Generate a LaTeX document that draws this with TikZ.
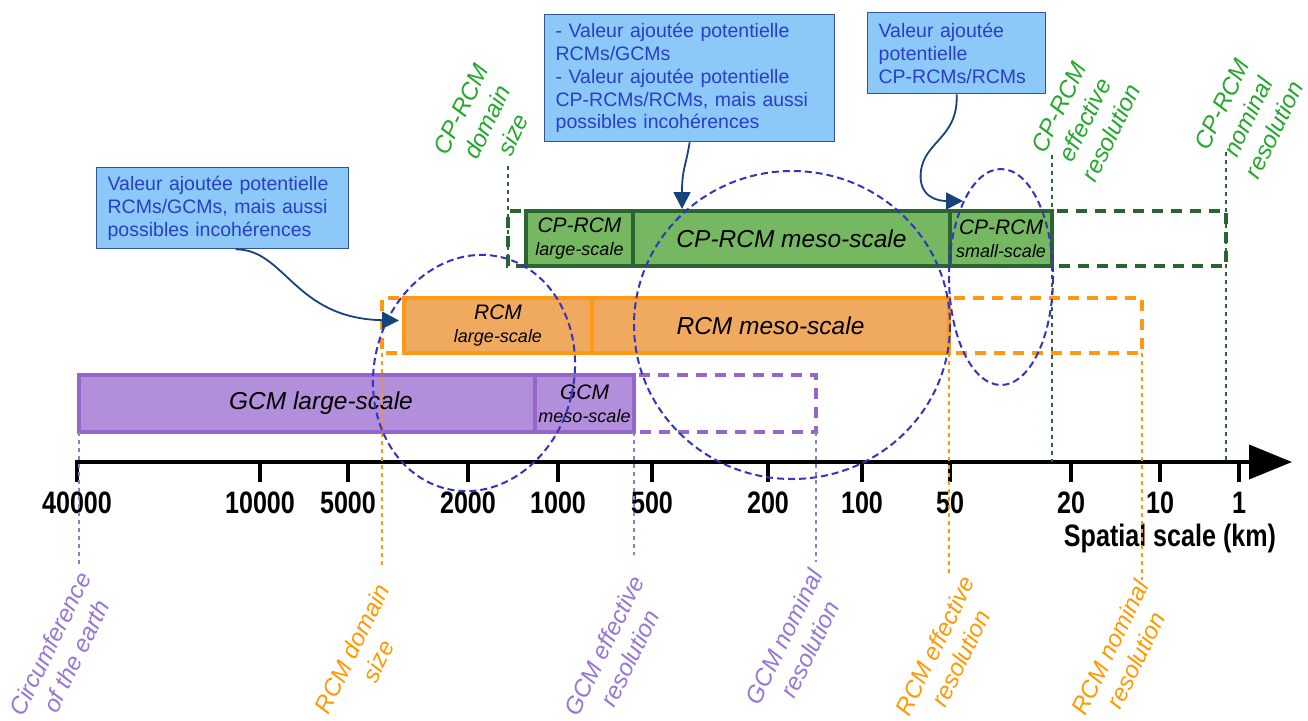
\documentclass[tikz,border=0pt]{standalone}
\usepackage{fontspec}
\setmainfont{Liberation Sans}
\usetikzlibrary{arrows.meta,calc,positioning}

\definecolor{gcmfill}{RGB}{178,143,218}
\definecolor{gcmline}{RGB}{150,102,204}
\definecolor{gcmtext}{RGB}{152,118,212}
\definecolor{rcmfill}{RGB}{240,170,96}
\definecolor{rcmline}{RGB}{255,152,20}
\definecolor{rcmtext}{RGB}{255,153,0}
\definecolor{cpfill}{RGB}{118,184,98}
\definecolor{cpline}{RGB}{42,100,48}
\definecolor{cptext}{RGB}{36,168,44}
\definecolor{notefill}{RGB}{140,200,248}
\definecolor{noteline}{RGB}{52,84,140}
\definecolor{notetext}{RGB}{42,62,198}
\definecolor{ringcol}{RGB}{52,52,190}
\definecolor{pointcol}{RGB}{24,66,122}

\newcommand{\barfont}{\itshape\fontsize{24.5}{29}\selectfont}
\newcommand{\twofont}{\itshape\fontsize{21}{23}\selectfont}
\newcommand{\subfont}{\fontsize{18}{23}\selectfont}
\newcommand{\notefont}{\fontsize{19.5}{22.8}\selectfont}
\newcommand{\tagfont}{\itshape\fontsize{24}{29}\selectfont}
\newcommand{\axfont}{\bfseries\fontsize{31}{34}\selectfont}
\newcommand{\narrow}[1]{\scalebox{0.81}[1]{#1}}

\begin{document}
\begin{tikzpicture}[x=1pt, y=-1pt,
  bar/.style={draw, line width=4pt, inner sep=0pt, outer sep=0pt, font=\barfont, align=center},
  gcm/.style={bar, draw=gcmline, fill=gcmfill, minimum height=57pt},
  rcm/.style={bar, draw=rcmline, fill=rcmfill, minimum height=55pt},
  cp/.style={bar, draw=cpline, fill=cpfill, minimum height=55pt},
  ext/.style={line width=4pt, dash pattern=on 11pt off 8pt, dash phase=14pt},
  guide/.style={line width=2pt, dash pattern=on 4pt off 4pt},
  tag/.style={font=\tagfont, align=center, rotate=64, inner sep=0pt},
  note/.style={draw=noteline, fill=notefill, line width=1.3pt, text=notetext, font=\notefont,
    align=left, inner xsep=11pt, inner ysep=4pt, anchor=north west},
  pointer/.style={draw=pointcol, line width=1.8pt, -{Triangle[length=17pt,width=17pt]}},
  ring/.style={draw=ringcol, line width=2pt, dash pattern=on 7pt off 4pt},
  tick/.style={line width=4pt},
  axlab/.style={font=\axfont, anchor=base, inner sep=0pt}]

\fill[white] (0,0) rectangle (1308,720);
\useasboundingbox (0,0) rectangle (1308,720);

% bars
\node[gcm, minimum width=456pt, anchor=north west] (gcmlarge) at (79,375) {\hspace*{28pt}GCM large-scale};
\node[gcm, minimum width=99pt, right=0pt of gcmlarge, font=\twofont] (gcmmeso) {GCM\\{\subfont meso-scale}};
\node[rcm, minimum width=188pt, anchor=north west, font=\twofont] (rcmlarge) at (404,298) {RCM\\{\subfont large-scale}};
\node[rcm, minimum width=357pt, right=0pt of rcmlarge] (rcmmeso) {RCM meso-scale};
\node[cp, minimum width=107pt, anchor=north west, font=\twofont] (cplarge) at (526,211) {CP-RCM\\{\subfont large-scale}};
\node[cp, minimum width=317pt, right=0pt of cplarge] (cpmeso) {CP-RCM meso-scale};
\node[cp, minimum width=102pt, right=0pt of cpmeso, font=\twofont] (cpsmall) {CP-RCM\\{\subfont small-scale}};

\draw[ext, gcmline] (gcmmeso.north east) -- ++(182,0) |- (gcmmeso.south east);
\draw[ext, rcmline] (rcmmeso.north east) -- ++(193,0) |- (rcmmeso.south east);
\draw[ext, rcmline] (rcmlarge.north west) -- ++(-22,0) |- (rcmlarge.south west);
\draw[ext, cpline] (cpsmall.north east) -- ++(174,0) |- (cpsmall.south east);
\draw[ext, cpline] (cplarge.north west) -- ++(-18,0) |- (cplarge.south west);

% axis
\coordinate (axstart) at (75,462);
\coordinate (axend) at (1292,462);
\draw[line width=4pt, -{Triangle[length=43pt,width=34pt]}] (axstart) -- (axend);
\foreach \x/\v in {77/40000,260/10000,348/5000,468/2000,558/1000,652/500,768/200,862/100,950/50,1071/20,1160/10,1239/1}
{
  \draw[tick] (\x,462) -- ++(0,20);
  \node[axlab] (v\v) at (\x,513) {\narrow{\v}};
}
\node[axlab] (unit) at (1170,546) {\narrow{Spatial scale (km)}};

% guides
\draw[guide, gcmtext] (gcmlarge.south west) -- ++(0,136);
\draw[guide, rcmtext] ([xshift=-22pt]rcmlarge.south west) -- ++(0,215);
\draw[guide, gcmtext] (gcmmeso.south east) -- ++(0,123);
\draw[guide, gcmtext] ([xshift=182pt]gcmmeso.south east) -- ++(0,130);
\draw[guide, rcmtext] (rcmmeso.south east) -- ++(0,222);
\draw[guide, rcmtext] ([xshift=193pt]rcmmeso.south east) -- ++(0,227);
\draw[guide, cpline] ([xshift=-18pt]cplarge.south west) -- ++(0,-103);
\draw[guide, cpline] ([yshift=56pt]cpsmall.north east) -- (cpsmall.north east |- axstart);
\coordinate (cpnom) at ($(cpsmall.north east)+(174,-59)$);
\draw[guide, cpline] (cpnom) -- (cpnom |- axstart);

\node[tag, text=gcmtext] (earth) at (63,650) {Circumference\\of the earth};
\node[tag, text=rcmtext] (rcmdom) at (365,655) {RCM domain\\size};
\node[tag, text=gcmtext] (gcmeff) at (617,652) {GCM effective\\resolution};
\node[tag, text=gcmtext] (gcmnom) at (797,643) {GCM nominal\\resolution};
\node[tag, text=rcmtext] (rcmeff) at (948,652) {RCM effective\\resolution};
\node[tag, text=rcmtext] (rcmnom) at (1123,654) {RCM nominal\\resolution};
\node[tag, text=cptext] (cpdom) at (487,122) {CP-RCM\\domain\\size};
\node[tag, text=cptext] (cpeff) at (1085,120) {CP-RCM\\effective\\resolution};
\node[tag, text=cptext] (cpnomlab) at (1248,117) {CP-RCM\\nominal\\resolution};

% rings
\draw[ring, rotate around={-13:(474,373)}] (474,373) ellipse [x radius=100, y radius=119];
\draw[ring] (792,325) ellipse [x radius=158, y radius=154];
\draw[ring] (1001,277) ellipse [x radius=52, y radius=108];

% notes
\node[note, text width=230pt, minimum height=81pt] (note1) at (96,167)
  {Valeur ajoutée potentielle\\RCMs/GCMs, mais aussi\\possibles incohérences};
\node[note, text width=268pt, minimum height=127pt] (note2) at (544,14)
  {- Valeur ajoutée potentielle\\RCMs/GCMs\\- Valeur ajoutée potentielle\\CP-RCMs/RCMs, mais aussi\\possibles incohérences};
\node[note, text width=156pt, minimum height=81pt] (note3) at (867,12)
  {Valeur ajoutée\\potentielle\\CP-RCMs/RCMs};

\draw[pointer] ([xshift=13pt]note1.south) .. controls +(50,0) and +(-105,-2) .. ([xshift=-5pt,yshift=5pt]rcmlarge.west);
\draw[pointer] (note2.south) .. controls +(-4,25) and +(0,-40) .. ([xshift=49pt,yshift=2pt]cpmeso.north west);
\draw[pointer] (note3.south) .. controls +(2,47) and +(-2,-38) .. ++(-36,85) .. controls +(2,22) and +(-18,0) .. ([xshift=13pt,yshift=10pt]cpsmall.north west);
\end{tikzpicture}
\end{document}
